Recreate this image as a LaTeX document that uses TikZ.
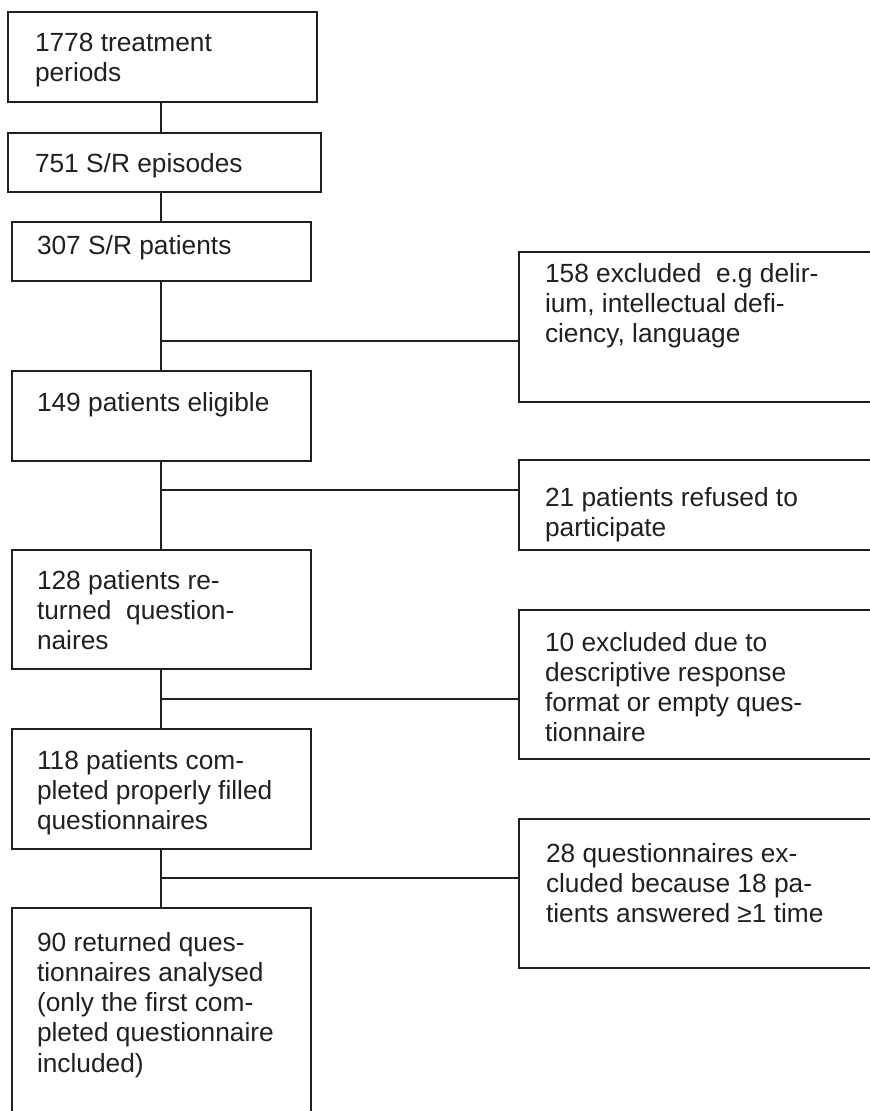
\documentclass[tikz,border=0pt]{standalone}
\usepackage{fontspec}
\setmainfont{Liberation Sans}
\definecolor{ink}{RGB}{35,31,32}
\begin{document}
\begin{tikzpicture}[x=1pt,y=-1pt,
  box/.style={draw=ink, line width=2.4pt, rectangle, inner sep=0pt, outer sep=0pt, anchor=north west},
  txt/.style={text=ink, align=left, inner sep=0pt, outer sep=0pt, anchor=north west, font=\fontsize{26.3}{30.3}\selectfont},
  conn/.style={draw=ink, line width=2.4pt}]
\useasboundingbox (0,0) rectangle (870,1111);
\clip (0,0) rectangle (870,1111);
% left column boxes
\node[box, minimum width=309pt, minimum height=90pt] (b1) at (8,12) {};
\node[box, minimum width=313pt, minimum height=59pt] (b2) at (8,133) {};
\node[box, minimum width=299pt, minimum height=59pt] (b3) at (12,222) {};
\node[box, minimum width=299pt, minimum height=90pt] (b4) at (12,371) {};
\node[box, minimum width=299pt, minimum height=119pt] (b5) at (12,550) {};
\node[box, minimum width=299pt, minimum height=120pt] (b6) at (12,729) {};
\node[box, minimum width=299pt, minimum height=260pt] (b7) at (12,908) {};
% right column boxes (cut off at the right edge)
\node[box, minimum width=400pt, minimum height=150pt] (r1) at (519,252) {};
\node[box, minimum width=400pt, minimum height=90pt] (r2) at (519,460) {};
\node[box, minimum width=400pt, minimum height=149pt] (r3) at (519,610) {};
\node[box, minimum width=400pt, minimum height=149pt] (r4) at (519,819) {};
% texts
\node[txt] (t1) at (35,33) {1778 treatment\\periods};
\node[txt] (t2) at (35,153) {751 S/R episodes};
\node[txt] (t3) at (37,235) {307 S/R patients};
\node[txt] (t4) at (37,392) {149 patients eligible};
\node[txt] (t5) at (37,570) {128 patients re-\\turned\ \ question-\\naires};
\node[txt] (t6) at (37,750) {118 patients com-\\pleted properly filled\\questionnaires};
\node[txt] (t7) at (37,932) {90 returned ques-\\tionnaires analysed\\(only the first com-\\pleted questionnaire\\included)};
\node[txt] (s1) at (545,263) {158 excluded\ \ e.g delir-\\ium, intellectual defi-\\ciency, language};
\node[txt] (s2) at (545,487) {21 patients refused to\\participate};
\node[txt] (s3) at (545,632) {10 excluded due to\\descriptive response\\format or empty ques-\\tionnaire};
\node[txt] (s4) at (546,843) {28 questionnaires ex-\\cluded because 18 pa-\\tients answered ≥1 time};
% junction points on the trunk
\coordinate (j1) at (161,341);
\coordinate (j2) at (161,490);
\coordinate (j3) at (161,699);
\coordinate (j4) at (161,878);
% trunk
\draw[conn] (b1.south -| j1) -- (b2.north -| j1);
\draw[conn] (b2.south -| j1) -- (b3.north -| j1);
\draw[conn] (b3.south -| j1) -- (b4.north -| j1);
\draw[conn] (b4.south -| j1) -- (b5.north -| j1);
\draw[conn] (b5.south -| j1) -- (b6.north -| j1);
\draw[conn] (b6.south -| j1) -- (b7.north -| j1);
% branches
\draw[conn] (j1) -- (j1 -| r1.west);
\draw[conn] (j2) -- (j2 -| r2.west);
\draw[conn] (j3) -- (j3 -| r3.west);
\draw[conn] (j4) -- (j4 -| r4.west);
\end{tikzpicture}
\end{document}
